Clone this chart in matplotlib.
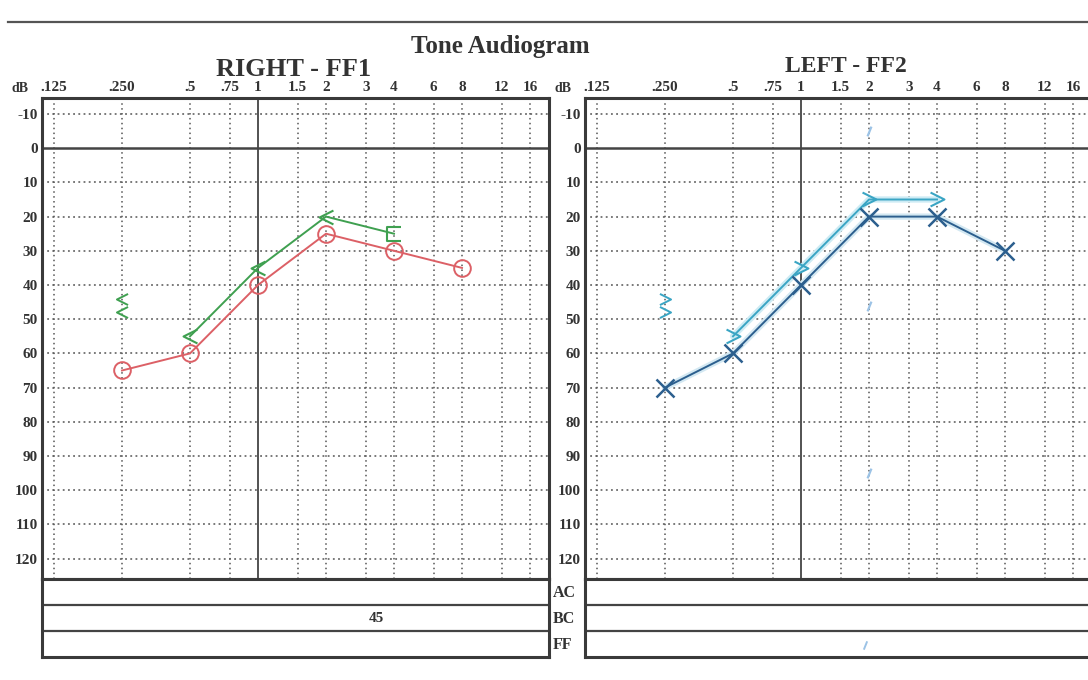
import matplotlib
matplotlib.use("Agg")
import matplotlib.pyplot as plt
from matplotlib.path import Path
from matplotlib.lines import Line2D

plt.rcParams['font.family'] = ['Liberation Serif', 'DejaVu Serif']

# ---------------- data ----------------
freq_ticks = [0.125, 0.25, 0.5, 0.75, 1, 1.5, 2, 3, 4, 6, 8, 12, 16]
freq_labels = ['.125', '.250', '.5', '.75', '1', '1.5', '2', '3', '4', '6', '8', '12', '16']
db_ticks = [-10, 0, 10, 20, 30, 40, 50, 60, 70, 80, 90, 100, 110, 120]

# RIGHT - FF1
right_ac_freq = [0.25, 0.5, 1, 2, 4, 8]
right_ac_db = [65, 60, 40, 25, 30, 35]
right_bc_freq = [0.5, 1, 2, 4]
right_bc_db = [55, 35, 20, 25]
right_bc_single_freq = [0.25, 0.25]
right_bc_single_db = [44, 48]

# LEFT - FF2
left_ac_freq = [0.25, 0.5, 1, 2, 4, 8]
left_ac_db = [70, 60, 40, 20, 20, 30]
left_bc_freq = [0.5, 1, 2, 4]
left_bc_db = [55, 35, 15, 15]
left_bc_single_freq = [0.25, 0.25]
left_bc_single_db = [44, 48]
left_stray_freq = [2, 2, 2]
left_stray_db = [-5, 46, 95]

table_rows = ['AC', 'BC', 'FF']
right_table_values = {'BC': '45'}

# ---------------- layout helpers ----------------
W, H = 1088, 680
fig = plt.figure(figsize=(W / 100, H / 100), dpi=100)
fig.patch.set_facecolor('white')


def add_ax(x0, y0, x1, y1):
    return fig.add_axes([x0 / W, 1 - y1 / H, (x1 - x0) / W, (y1 - y0) / H])


PX_OCT = 68.0
Y_TOP, Y_BOT = 98, 579
DB_PX = 3.42
Y_M10 = 114

chev_left = Path([(1, 1), (-1, 0), (1, -1)], [Path.MOVETO, Path.LINETO, Path.LINETO])
chev_right = Path([(-1, 1), (1, 0), (-1, -1)], [Path.MOVETO, Path.LINETO, Path.LINETO])
bracket = Path([(1, 1), (-1, 1), (-1, -1), (1, -1)],
               [Path.MOVETO, Path.LINETO, Path.LINETO, Path.LINETO])
slash = Path([(-0.4, -1), (0.4, 1)], [Path.MOVETO, Path.LINETO])

text_col = '#333333'


def make_panel(x0, x1, x250):
    ax = add_ax(x0, Y_TOP, x1, Y_BOT)
    ax.set_xscale('log', base=2)
    ax.set_xlim(0.25 * 2 ** ((x0 - x250) / PX_OCT), 0.25 * 2 ** ((x1 - x250) / PX_OCT))
    ax.set_ylim(-10 + (Y_BOT - Y_M10) / DB_PX, -10 + (Y_TOP - Y_M10) / DB_PX)
    ax.minorticks_off()
    ax.xaxis.tick_top()
    ax.set_xticks(freq_ticks)
    ax.set_xticklabels(freq_labels, fontsize=11, fontweight='bold', color=text_col)
    ax.set_yticks(db_ticks)
    ax.set_yticklabels([str(v) for v in db_ticks], fontsize=11, fontweight='bold', color=text_col)
    ax.tick_params(axis='both', length=0, pad=3)
    for s in ax.spines.values():
        s.set_linewidth(2.2)
        s.set_color('#3a3a3a')
    for f in freq_ticks:
        if f == 1:
            ax.axvline(f, color='#444444', lw=1.3, zorder=1)
        else:
            ax.axvline(f, color='#555555', lw=1.1, ls=(0, (1, 2.2)), zorder=1)
    for d in db_ticks:
        if d == 0:
            ax.axhline(d, color='#444444', lw=1.8, zorder=1)
        else:
            ax.axhline(d, color='#555555', lw=1.1, ls=(0, (1.2, 2.2)), zorder=1)
    return ax


def make_table(x0, x1, values):
    tax = add_ax(x0, Y_BOT, x1, 657)
    tax.set_xlim(0, 1)
    tax.set_ylim(3, 0)
    tax.set_xticks([])
    tax.set_yticks([])
    for s in tax.spines.values():
        s.set_linewidth(2.2)
        s.set_color('#3a3a3a')
    for i in range(1, len(table_rows)):
        tax.axhline(i, color='#444444', lw=1.6)
    for i, r in enumerate(table_rows):
        if r in values:
            tax.text(0.66, i + 0.5, values[r], ha='center', va='center',
                     fontsize=11, fontweight='bold', color=text_col)
    return tax


# ---------------- RIGHT panel ----------------
axR = make_panel(42, 549, 122)
red = '#dc6066'
green = '#3fa050'
axR.plot(right_ac_freq, right_ac_db, color=red, lw=1.4, marker='o', ms=12,
         mfc='none', mec=red, mew=1.4, zorder=3)
axR.plot(right_bc_freq[:-1], right_bc_db[:-1], color=green, lw=0, marker=chev_left,
         ms=10, mfc='none', mec=green, mew=1.5, zorder=4)
axR.plot(right_bc_freq[-1:], right_bc_db[-1:], color=green, lw=0, marker=bracket,
         ms=10, mfc='none', mec=green, mew=1.5, zorder=4)
axR.plot(right_bc_freq, right_bc_db, color=green, lw=1.4, zorder=3)
axR.plot(right_bc_single_freq, right_bc_single_db, lw=0, marker=chev_left, ms=8,
         mfc='none', mec=green, mew=1.4, zorder=4)
make_table(42, 549, right_table_values)

# ---------------- LEFT panel ----------------
axL = make_panel(585, 1094, 665)
dblue = '#2c5f8e'
lblue = '#3aa5c4'
axL.plot(left_bc_freq, left_bc_db, color='#cdebf4', lw=4.5, zorder=2, solid_capstyle='round')
axL.plot(left_bc_freq, left_bc_db, color=lblue, lw=1.4, marker=chev_right, ms=10,
         mfc='none', mec=lblue, mew=1.5, zorder=3)
axL.plot(left_ac_freq, left_ac_db, color='#d3e8f2', lw=4.5, zorder=2, solid_capstyle='round')
axL.plot(left_ac_freq, left_ac_db, color=dblue, lw=1.4, marker='x', ms=13,
         mec=dblue, mew=1.8, zorder=4)
axL.plot(left_bc_single_freq, left_bc_single_db, lw=0, marker=chev_right, ms=8,
         mfc='none', mec=lblue, mew=1.4, zorder=4)
axL.plot(left_stray_freq, left_stray_db, lw=0, marker=slash, ms=7,
         mec='#9cc3e6', mew=1.6, zorder=4)
tL = make_table(585, 1094, {})
tL.plot([0.55], [2.55], lw=0, marker=slash, ms=6, mec='#9cc3e6', mew=1.4)

# ---------------- texts ----------------
def ftext(x, y, s, **kw):
    fig.text(x / W, 1 - y / H, s, color=text_col, fontweight='bold', **kw)


ftext(500, 46, 'Tone Audiogram', fontsize=18, ha='center', va='center')
ftext(294, 70, 'RIGHT - FF1', fontsize=19, ha='center', va='center')
ftext(846, 67, 'LEFT - FF2', fontsize=17, ha='center', va='center')
ftext(20, 89, 'dB', fontsize=10, ha='center', va='center')
ftext(563, 89, 'dB', fontsize=10, ha='center', va='center')
for i, r in enumerate(table_rows):
    ftext(553, 593 + 26 * i, r, fontsize=11.5, ha='left', va='center')

fig.add_artist(Line2D([8 / W, 1.0], [1 - 22 / H, 1 - 22 / H], color='#555555', lw=1.6))

fig.savefig('out.png', dpi=100, facecolor='white')
